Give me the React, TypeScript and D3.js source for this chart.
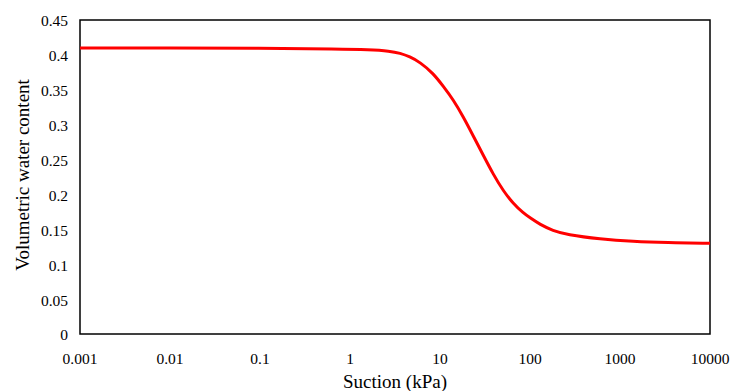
import React, { useEffect, useRef } from 'react';
import * as d3 from 'd3';

// suction (kPa)
const suction = [0.001, 0.01, 0.1, 0.77, 1.6, 2.8, 3.6, 4.6, 6, 8.4, 10.9, 14, 18.2, 23.4, 30.3, 39, 50.5, 65, 84, 100, 129, 180, 255, 600, 1400, 3300, 10000];
// volumetric water content at each suction
const waterContent = [0.41, 0.41, 0.4095, 0.4084, 0.4075, 0.4055, 0.4025, 0.3975, 0.3895, 0.3736, 0.3548, 0.336, 0.311, 0.284, 0.256, 0.229, 0.205, 0.187, 0.1735, 0.1665, 0.157, 0.148, 0.1425, 0.136, 0.1325, 0.1309, 0.13];

const xTicks = [0.001, 0.01, 0.1, 1, 10, 100, 1000, 10000];
const xTickLabels = ['0.001', '0.01', '0.1', '1', '10', '100', '1000', '10000'];
const yTicks = [0, 0.05, 0.1, 0.15, 0.2, 0.25, 0.3, 0.35, 0.4, 0.45];

const W = 732;
const H = 391;
const margin = { left: 80, right: 22, top: 20, bottom: 57 };

export default function App() {
  const ref = useRef<SVGSVGElement>(null);

  useEffect(() => {
    const svg = d3.select(ref.current);
    svg.selectAll('*').remove();

    const x = d3.scaleLog().domain([0.001, 10000]).range([margin.left, W - margin.right]);
    const y = d3.scaleLinear().domain([0, 0.45]).range([H - margin.bottom, margin.top]);

    const font = "'Liberation Serif', 'Times New Roman', serif";

    // frame
    svg.append('rect')
      .attr('x', margin.left)
      .attr('y', margin.top)
      .attr('width', W - margin.left - margin.right)
      .attr('height', H - margin.top - margin.bottom)
      .attr('fill', 'none')
      .attr('stroke', '#000')
      .attr('stroke-width', 1.5);

    // y tick labels
    svg.append('g')
      .selectAll('text')
      .data(yTicks)
      .enter()
      .append('text')
      .attr('x', margin.left - 12)
      .attr('y', d => y(d) + 1)
      .attr('dy', '0.35em')
      .attr('text-anchor', 'end')
      .style('font-family', font)
      .style('font-size', '15.5px')
      .text(d => d3.format('')(d));

    // x tick labels
    svg.append('g')
      .selectAll('text')
      .data(xTicks)
      .enter()
      .append('text')
      .attr('x', d => x(d))
      .attr('y', H - margin.bottom + 30)
      .attr('text-anchor', 'middle')
      .style('font-family', font)
      .style('font-size', '15.5px')
      .text((d, i) => xTickLabels[i]);

    // axis titles
    svg.append('text')
      .attr('x', (margin.left + W - margin.right) / 2)
      .attr('y', 388)
      .attr('text-anchor', 'middle')
      .style('font-family', font)
      .style('font-size', '19px')
      .text('Suction (kPa)');

    svg.append('text')
      .attr('transform', `translate(28.5, 175) rotate(-90)`)
      .attr('text-anchor', 'middle')
      .style('font-family', font)
      .style('font-size', '19px')
      .text('Volumetric water content');

    // curve
    const line = d3.line<number>()
      .x((d, i) => x(suction[i]))
      .y(d => y(d))
      .curve(d3.curveBasis);

    svg.append('path')
      .datum(waterContent)
      .attr('d', line)
      .attr('fill', 'none')
      .attr('stroke', '#FF0000')
      .attr('stroke-width', 3)
      .attr('stroke-linejoin', 'round');
  }, []);

  return <svg ref={ref} width={W} height={H} style={{ position: 'absolute', left: 0, top: 0 }} />;
}
